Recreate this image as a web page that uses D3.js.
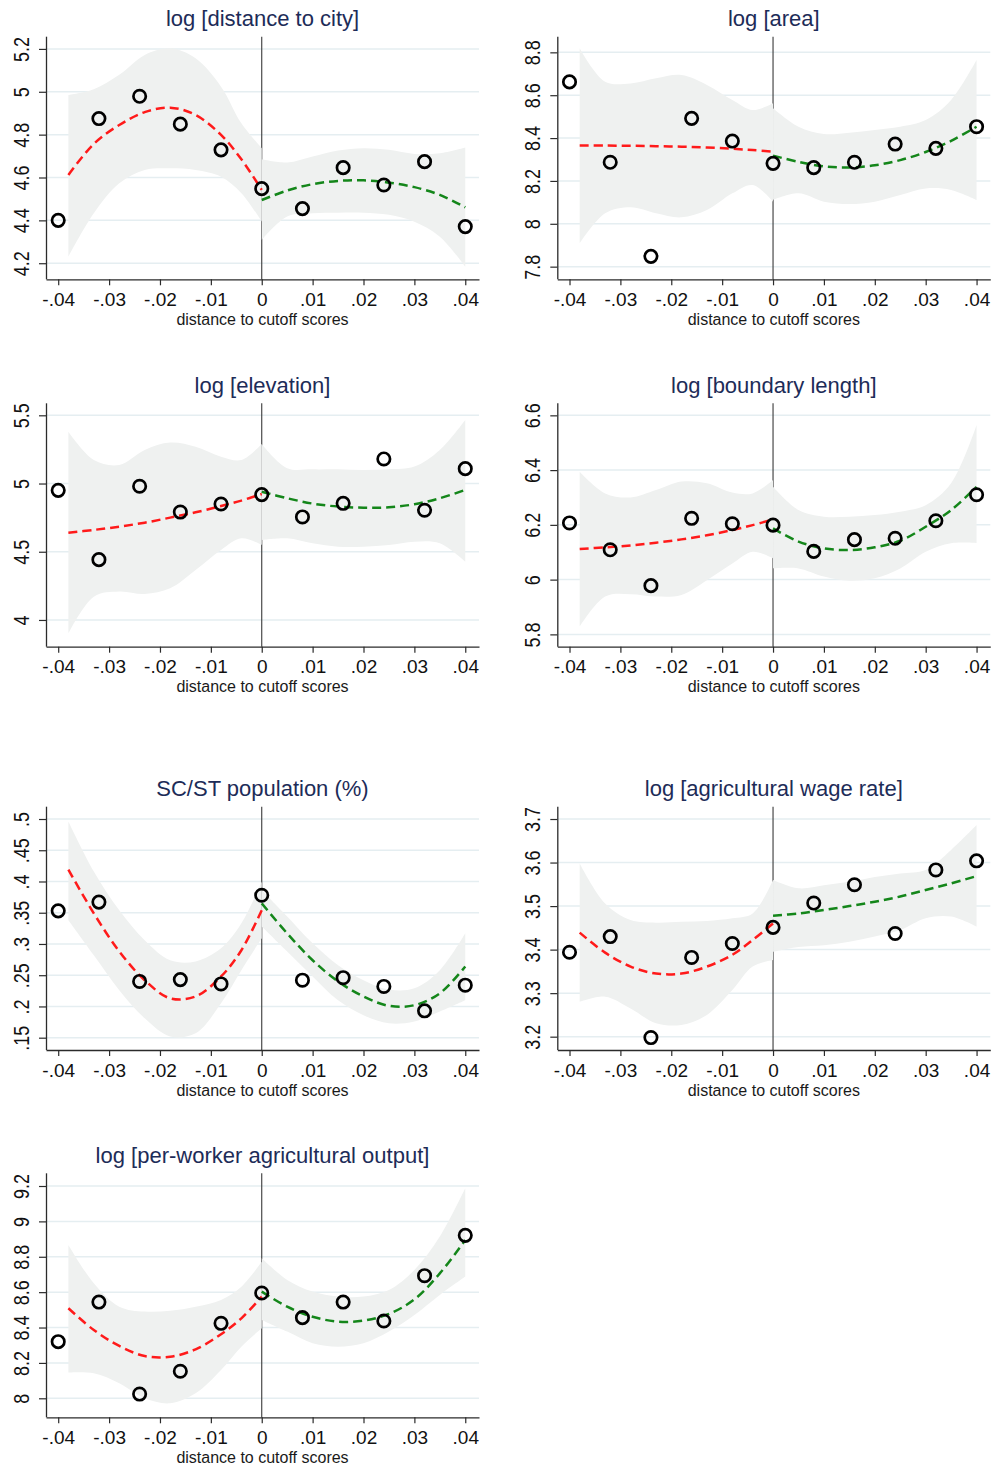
<!DOCTYPE html>
<html>
<head>
<meta charset="utf-8">
<script src="https://cdn.jsdelivr.net/npm/d3@7"></script>
<style>
  html, body { margin: 0; padding: 0; background: #ffffff; }
  svg { display: block; }
  text { font-family: "Liberation Sans", Arial, sans-serif; }
</style>
</head>
<body>
<svg id="chart" width="992" height="1467"></svg>
<script>
// Bin centres of the running variable and the points at which the fitted curves / bands are sampled
const binX = [-0.04, -0.032, -0.024, -0.016, -0.008, 0, 0.008, 0.016, 0.024, 0.032, 0.04];
const fitXLeft = [-0.038, -0.033, -0.028, -0.023, -0.018, -0.013, -0.008, -0.004, 0];
const fitXRight = [0, 0.005, 0.01, 0.015, 0.02, 0.025, 0.03, 0.035, 0.04];

const xTicks = [-0.04, -0.03, -0.02, -0.01, 0, 0.01, 0.02, 0.03, 0.04];
const xTickLabels = ["-.04", "-.03", "-.02", "-.01", "0", ".01", ".02", ".03", ".04"];
const xAxisTitle = "distance to cutoff scores";

// log [distance to city]
const cityTicks = [4.2, 4.4, 4.6, 4.8, 5, 5.2];
const cityTickLabels = ["4.2", "4.4", "4.6", "4.8", "5", "5.2"];
const cityBins = [4.40, 4.875, 4.979, 4.849, 4.729, 4.548, 4.455, 4.646, 4.565, 4.674, 4.371];
const cityFitL = [4.612, 4.757, 4.845, 4.905, 4.926, 4.892, 4.799, 4.685, 4.542];
const cityFitR = [4.495, 4.539, 4.569, 4.584, 4.587, 4.576, 4.555, 4.519, 4.461];
const cityHiL = [4.985, 5.012, 5.079, 5.172, 5.203, 5.156, 5.024, 4.853, 4.737];
const cityLoL = [4.231, 4.433, 4.573, 4.635, 4.643, 4.635, 4.604, 4.527, 4.394];
const cityHiR = [4.685, 4.670, 4.698, 4.726, 4.737, 4.729, 4.710, 4.713, 4.740];
const cityLoR = [4.309, 4.418, 4.433, 4.436, 4.436, 4.426, 4.394, 4.324, 4.184];

// log [area]
const areaTicks = [7.8, 8, 8.2, 8.4, 8.6, 8.8];
const areaTickLabels = ["7.8", "8", "8.2", "8.4", "8.6", "8.8"];
const areaBins = [8.662, 8.287, 7.848, 8.492, 8.386, 8.282, 8.262, 8.287, 8.372, 8.352, 8.453];
const areaFitL = [8.365, 8.365, 8.364, 8.362, 8.360, 8.356, 8.350, 8.344, 8.337];
const areaFitR = [8.318, 8.289, 8.268, 8.263, 8.273, 8.297, 8.335, 8.387, 8.453];
const areaHiL = [8.819, 8.663, 8.655, 8.679, 8.694, 8.648, 8.578, 8.531, 8.562];
const areaLoL = [7.909, 8.049, 8.077, 8.049, 8.030, 8.064, 8.142, 8.181, 8.103];
const areaHiR = [8.539, 8.453, 8.419, 8.425, 8.438, 8.453, 8.484, 8.578, 8.764];
const areaLoR = [8.111, 8.142, 8.103, 8.092, 8.103, 8.134, 8.165, 8.158, 8.111];

// log [elevation]
const elevTicks = [4, 4.5, 5, 5.5];
const elevTickLabels = ["4", "4.5", "5", "5.5"];
const elevBins = [4.950, 4.442, 4.980, 4.791, 4.850, 4.919, 4.755, 4.855, 5.180, 4.804, 5.109];
const elevFitL = [4.640, 4.660, 4.684, 4.713, 4.750, 4.789, 4.835, 4.875, 4.923];
const elevFitR = [4.940, 4.892, 4.853, 4.831, 4.823, 4.826, 4.848, 4.892, 4.953];
const elevHiL = [5.380, 5.173, 5.136, 5.246, 5.300, 5.270, 5.197, 5.173, 5.290];
const elevLoL = [3.902, 4.171, 4.208, 4.190, 4.232, 4.366, 4.513, 4.598, 4.550];
const elevHiR = [5.290, 5.112, 5.104, 5.104, 5.099, 5.104, 5.124, 5.246, 5.466];
const elevLoR = [4.586, 4.598, 4.562, 4.537, 4.537, 4.550, 4.574, 4.562, 4.427];

// log [boundary length]
const boundTicks = [5.8, 6, 6.2, 6.4, 6.6];
const boundTickLabels = ["5.8", "6", "6.2", "6.4", "6.6"];
const boundBins = [6.207, 6.109, 5.978, 6.224, 6.204, 6.199, 6.103, 6.146, 6.151, 6.215, 6.310];
const boundFitL = [6.112, 6.118, 6.125, 6.135, 6.147, 6.162, 6.181, 6.199, 6.220];
const boundFitR = [6.187, 6.139, 6.114, 6.108, 6.118, 6.142, 6.193, 6.254, 6.339];
const boundHiL = [6.394, 6.315, 6.300, 6.327, 6.358, 6.352, 6.318, 6.315, 6.364];
const boundLoL = [5.828, 5.938, 5.947, 5.938, 5.944, 5.998, 6.059, 6.102, 6.078];
const boundHiR = [6.339, 6.254, 6.230, 6.230, 6.236, 6.248, 6.272, 6.352, 6.565];
const boundLoR = [6.041, 6.041, 6.011, 5.996, 6.005, 6.041, 6.102, 6.133, 6.133];

// SC/ST population (%)
const scstTicks = [0.15, 0.2, 0.25, 0.3, 0.35, 0.4, 0.45, 0.5];
const scstTickLabels = [".15", ".2", ".25", ".3", ".35", ".4", ".45", ".5"];
const scstBins = [0.353, 0.367, 0.240, 0.243, 0.236, 0.378, 0.242, 0.246, 0.232, 0.193, 0.234];
const scstFitL = [0.419, 0.349, 0.288, 0.242, 0.213, 0.216, 0.248, 0.290, 0.354];
const scstFitR = [0.365, 0.317, 0.274, 0.240, 0.216, 0.201, 0.202, 0.221, 0.264];
const scstHiL = [0.496, 0.416, 0.354, 0.306, 0.274, 0.272, 0.293, 0.333, 0.400];
const scstLoL = [0.338, 0.282, 0.226, 0.181, 0.152, 0.157, 0.205, 0.258, 0.309];
const scstHiR = [0.386, 0.344, 0.301, 0.266, 0.242, 0.227, 0.229, 0.258, 0.317];
const scstLoR = [0.328, 0.288, 0.248, 0.210, 0.186, 0.173, 0.176, 0.192, 0.210];

// log [agricultural wage rate]
const wageTicks = [3.2, 3.3, 3.4, 3.5, 3.6, 3.7];
const wageTickLabels = ["3.2", "3.3", "3.4", "3.5", "3.6", "3.7"];
const wageBins = [3.394, 3.430, 3.198, 3.382, 3.414, 3.451, 3.507, 3.549, 3.437, 3.583, 3.604];
const wageFitL = [3.439, 3.393, 3.361, 3.345, 3.345, 3.361, 3.388, 3.422, 3.460];
const wageFitR = [3.478, 3.483, 3.491, 3.500, 3.510, 3.522, 3.537, 3.552, 3.569];
const wageHiL = [3.598, 3.506, 3.468, 3.462, 3.464, 3.466, 3.472, 3.483, 3.560];
const wageLoL = [3.280, 3.292, 3.265, 3.231, 3.227, 3.250, 3.307, 3.361, 3.376];
const wageHiR = [3.560, 3.541, 3.548, 3.556, 3.567, 3.575, 3.583, 3.629, 3.686];
const wageLoR = [3.395, 3.406, 3.410, 3.418, 3.430, 3.445, 3.472, 3.476, 3.453];

// log [per-worker agricultural output]
const outTicks = [8, 8.2, 8.4, 8.6, 8.8, 9, 9.2];
const outTickLabels = ["8", "8.2", "8.4", "8.6", "8.8", "9", "9.2"];
const outBins = [8.320, 8.544, 8.024, 8.153, 8.424, 8.595, 8.456, 8.544, 8.437, 8.693, 8.921];
const outFitL = [8.509, 8.386, 8.296, 8.239, 8.235, 8.277, 8.362, 8.452, 8.575];
const outFitR = [8.603, 8.518, 8.461, 8.433, 8.439, 8.477, 8.559, 8.706, 8.895];
const outHiL = [8.867, 8.650, 8.518, 8.490, 8.495, 8.518, 8.556, 8.631, 8.772];
const outLoL = [8.145, 8.141, 8.085, 8.000, 7.972, 8.028, 8.160, 8.292, 8.396];
const outHiR = [8.791, 8.669, 8.603, 8.575, 8.575, 8.612, 8.725, 8.914, 9.187];
const outLoR = [8.443, 8.377, 8.311, 8.292, 8.311, 8.377, 8.471, 8.584, 8.688];

// ---- panel table ----
const panels = [
  { title: "log [distance to city]", col: 0, row: 0, yDomain: [4.125, 5.257], ticks: cityTicks, labels: cityTickLabels,
    bins: cityBins, fitL: cityFitL, fitR: cityFitR, hiL: cityHiL, loL: cityLoL, hiR: cityHiR, loR: cityLoR },
  { title: "log [area]", col: 1, row: 0, yDomain: [7.741, 8.873], ticks: areaTicks, labels: areaTickLabels,
    bins: areaBins, fitL: areaFitL, fitR: areaFitR, hiL: areaHiL, loL: areaLoL, hiR: areaHiR, loR: areaLoR },
  { title: "log [elevation]", col: 0, row: 1, yDomain: [3.804, 5.588], ticks: elevTicks, labels: elevTickLabels,
    bins: elevBins, fitL: elevFitL, fitR: elevFitR, hiL: elevHiL, loL: elevLoL, hiR: elevHiR, loR: elevLoR },
  { title: "log [boundary length]", col: 1, row: 1, yDomain: [5.755, 6.644], ticks: boundTicks, labels: boundTickLabels,
    bins: boundBins, fitL: boundFitL, fitR: boundFitR, hiL: boundHiL, loL: boundLoL, hiR: boundHiR, loR: boundLoR },
  { title: "SC/ST population (%)", col: 0, row: 2, yDomain: [0.1303, 0.5197], ticks: scstTicks, labels: scstTickLabels,
    bins: scstBins, fitL: scstFitL, fitR: scstFitR, hiL: scstHiL, loL: scstLoL, hiR: scstHiR, loR: scstLoR },
  { title: "log [agricultural wage rate]", col: 1, row: 2, yDomain: [3.1694, 3.7283], ticks: wageTicks, labels: wageTickLabels,
    bins: wageBins, fitL: wageFitL, fitR: wageFitR, hiL: wageHiL, loL: wageLoL, hiR: wageHiR, loR: wageLoR },
  { title: "log [per-worker agricultural output]", col: 0, row: 3, yDomain: [7.8926, 9.2718], ticks: outTicks, labels: outTickLabels,
    bins: outBins, fitL: outFitL, fitR: outFitR, hiL: outHiL, loL: outLoL, hiR: outHiR, loR: outLoR }
];

// ---- layout ----
const colLeft = [46, 557.3];
const plotW = 433;
const rowTop = [36.7, 403.3, 806.7, 1173.3];
const rowBottom = [279.3, 646.7, 1050, 1417.3];
const xDomain = [-0.0424, 0.0427];

const bandColor = "#eff1f0";
const gridColor = "#e5eef1";
const axisColor = "#2b2b2b";
const titleColor = "#1d2c58";

const svg = d3.select("#chart");

panels.forEach(p => {
  const x0 = colLeft[p.col], x1 = x0 + plotW;
  const top = rowTop[p.row], bottom = rowBottom[p.row];
  const x = d3.scaleLinear().domain(xDomain).range([x0, x1]);
  const y = d3.scaleLinear().domain(p.yDomain).range([bottom, top]);
  const g = svg.append("g");

  // horizontal grid
  g.append("g").selectAll("line").data(p.ticks).join("line")
    .attr("x1", x0).attr("x2", x1)
    .attr("y1", d => y(d)).attr("y2", d => y(d))
    .attr("stroke", gridColor).attr("stroke-width", 1.5);

  // cutoff line
  g.append("line")
    .attr("x1", x(0)).attr("x2", x(0)).attr("y1", top).attr("y2", bottom)
    .attr("stroke", "#3a3a3a").attr("stroke-width", 1.1);

  const curve = d3.curveCatmullRom.alpha(0.5);

  // confidence bands
  const bandL = fitXLeft.map((v, i) => ({ x: v, lo: p.loL[i], hi: p.hiL[i] }));
  const bandR = fitXRight.map((v, i) => ({ x: v, lo: p.loR[i], hi: p.hiR[i] }));
  const area = d3.area().x(d => x(d.x)).y0(d => y(d.lo)).y1(d => y(d.hi)).curve(curve);
  g.append("path").datum(bandL).attr("d", area).attr("fill", bandColor);
  g.append("path").datum(bandR).attr("d", area).attr("fill", bandColor);

  // fitted curves
  const line = d3.line().x(d => x(d.x)).y(d => y(d.y)).curve(curve);
  g.append("path").datum(fitXLeft.map((v, i) => ({ x: v, y: p.fitL[i] })))
    .attr("d", line).attr("fill", "none").attr("stroke", "#ff1a1a")
    .attr("stroke-width", 2.5).attr("stroke-dasharray", "9,5");
  g.append("path").datum(fitXRight.map((v, i) => ({ x: v, y: p.fitR[i] })))
    .attr("d", line).attr("fill", "none").attr("stroke", "#14861a")
    .attr("stroke-width", 2.5).attr("stroke-dasharray", "9,5");

  // binned means
  g.append("g").selectAll("circle").data(binX.map((v, i) => ({ x: v, y: p.bins[i] }))).join("circle")
    .attr("cx", d => x(d.x)).attr("cy", d => y(d.y)).attr("r", 6.2)
    .attr("fill", "none").attr("stroke", "#000").attr("stroke-width", 2.7);

  // y axis
  const yAxis = g.append("g").attr("transform", `translate(${x0},0)`)
    .call(d3.axisLeft(y).tickValues(p.ticks).tickSize(7).tickSizeOuter(0)
      .tickFormat((d, i) => p.labels[i]));
  yAxis.select(".domain").attr("stroke", axisColor).attr("stroke-width", 1.3)
    .attr("d", `M0.5,${top}V${bottom}`);
  yAxis.selectAll(".tick line").attr("stroke", axisColor).attr("stroke-width", 1.2);
  yAxis.selectAll(".tick text")
    .attr("x", null).attr("dy", null)
    .attr("transform", "translate(-17.5,0) rotate(-90) scale(1,1.2)")
    .attr("text-anchor", "middle")
    .attr("font-size", 18).attr("fill", "#111")
    .attr("font-family", "'Liberation Sans', Arial, sans-serif");

  // x axis
  const xAxis = g.append("g").attr("transform", `translate(0,${bottom})`)
    .call(d3.axisBottom(x).tickValues(xTicks).tickSize(6).tickSizeOuter(0)
      .tickFormat((d, i) => xTickLabels[i]));
  xAxis.select(".domain").attr("stroke", axisColor).attr("stroke-width", 1.3);
  xAxis.selectAll(".tick line").attr("stroke", axisColor).attr("stroke-width", 1.2);
  xAxis.selectAll(".tick text")
    .attr("y", 26.7).attr("dy", null)
    .attr("font-size", 19).attr("fill", "#111")
    .attr("font-family", "'Liberation Sans', Arial, sans-serif");

  // axis title
  g.append("text")
    .attr("x", (x0 + x1) / 2).attr("y", bottom + 45.5)
    .attr("text-anchor", "middle").attr("font-size", 16).attr("fill", "#1a1a1a")
    .text(xAxisTitle);

  // panel title
  g.append("text")
    .attr("x", (x0 + x1) / 2).attr("y", top - 10.5)
    .attr("text-anchor", "middle").attr("font-size", 22).attr("fill", titleColor)
    .text(p.title);
});
</script>
</body>
</html>
